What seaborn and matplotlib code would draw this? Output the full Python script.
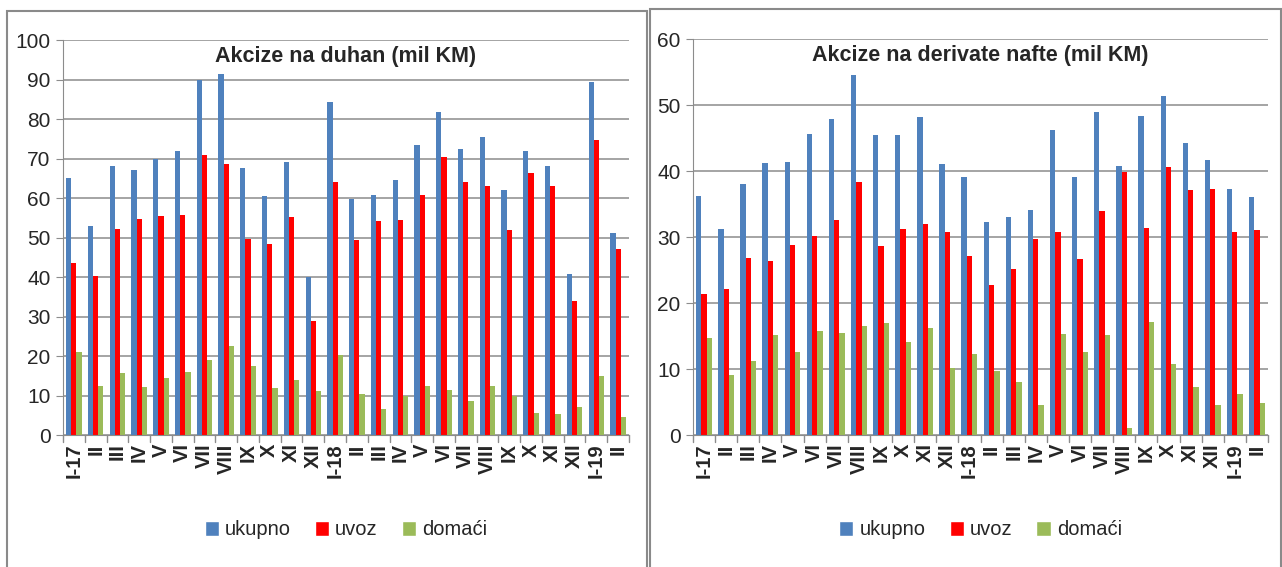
import matplotlib
matplotlib.use("Agg")
import matplotlib.pyplot as plt
from matplotlib.patches import Rectangle, Patch
import pandas as pd
import seaborn as sns

months = ["I-17", "II", "III", "IV", "V", "VI", "VII", "VIII", "IX", "X", "XI", "XII",
          "I-18", "II", "III", "IV", "V", "VI", "VII", "VIII", "IX", "X", "XI", "XII",
          "I-19", "II"]
series = ["ukupno", "uvoz", "domaći"]

duhan_ukupno = [65, 53, 68, 67, 70, 72, 90, 91.5, 67.5, 60.5, 69, 40,
                84.2, 59.8, 60.7, 64.5, 73.3, 81.8, 72.3, 75.5, 62, 72, 68.2, 40.7,
                89.5, 51.2]
duhan_uvoz = [43.5, 40.3, 52.2, 54.8, 55.5, 55.8, 71, 68.5, 49.5, 48.3, 55.2, 28.8,
              64, 49.3, 54.2, 54.5, 60.7, 70.5, 64, 63, 52, 66.3, 63, 34,
              74.6, 47]
duhan_domaci = [21, 12.5, 15.8, 12.2, 14.5, 16, 19, 22.5, 17.5, 12, 13.8, 11.2,
                20.2, 10.5, 6.5, 10, 12.3, 11.3, 8.5, 12.3, 10, 5.5, 5.2, 7,
                15, 4.5]

nafta_ukupno = [36.2, 31.2, 38, 41.2, 41.4, 45.6, 47.9, 54.6, 45.4, 45.4, 48.2, 41,
                39.1, 32.2, 33.1, 34.1, 46.2, 39.1, 49, 40.7, 48.4, 51.3, 44.3, 41.6,
                37.3, 36.1]
nafta_uvoz = [21.3, 22.1, 26.8, 26.4, 28.8, 30.1, 32.6, 38.3, 28.6, 31.2, 32, 30.8,
              27.1, 22.7, 25.2, 29.7, 30.8, 26.7, 33.9, 39.8, 31.4, 40.6, 37.1, 37.3,
              30.8, 31.1]
nafta_domaci = [14.7, 9.1, 11.2, 15.2, 12.6, 15.7, 15.5, 16.5, 16.9, 14.1, 16.2, 10.2,
                12.2, 9.7, 8, 4.5, 15.3, 12.6, 15.1, 1.0, 17.1, 10.8, 7.3, 4.5,
                6.2, 4.8]

colors = ["#4F81BD", "#FF0000", "#9BBB59"]


def make_frame(uk, uv, do):
    rows = []
    for i, m in enumerate(months):
        for s, v in zip(series, (uk, uv, do)):
            rows.append({"pos": i, "mjesec": m, "serija": s, "vrijednost": v[i]})
    return pd.DataFrame(rows)


sns.set_style("white")
plt.rcParams["font.family"] = ["Liberation Sans", "DejaVu Sans"]

fig = plt.figure(figsize=(12.82, 5.67), dpi=100)

# okviri panela
fig.patches.append(Rectangle((7 / 1282, -0.1), 640 / 1282, 1.08, transform=fig.transFigure,
                             fill=False, edgecolor="#8a8a8a", linewidth=1.5))
fig.patches.append(Rectangle((650 / 1282, -0.1), 631 / 1282, 1.085, transform=fig.transFigure,
                             fill=False, edgecolor="#8a8a8a", linewidth=1.5))

panels = [
    ([63 / 1282, 0.2328, 566 / 1282, 0.6966], duhan_ukupno, duhan_uvoz, duhan_domaci,
     "Akcize na duhan (mil KM)", 100, 10),
    ([693 / 1282, 0.2328, 575 / 1282, 0.6984], nafta_ukupno, nafta_uvoz, nafta_domaci,
     "Akcize na derivate nafte (mil KM)", 60, 10),
]

for rect, uk, uv, do, title, ymax, step in panels:
    ax = fig.add_axes(rect)
    df = make_frame(uk, uv, do)
    sns.barplot(data=df, x="pos", y="vrijednost", hue="serija", hue_order=series,
                palette=colors, width=0.72, gap=0.0, saturation=1, linewidth=0,
                ax=ax, legend=False)
    ax.set_ylim(0, ymax)
    ax.set_xlim(-0.5, len(months) - 0.5)
    ax.set_yticks(range(0, ymax + 1, step))
    ax.yaxis.grid(True, color="#8c8c8c", linewidth=1.1)
    ax.set_axisbelow(True)
    ax.set_xticks(range(len(months)))
    ax.set_xticklabels(months, rotation=90, fontsize=14.5, fontweight="bold")
    ax.tick_params(axis="x", length=0, pad=6)
    ax.tick_params(axis="y", labelsize=15, length=5, color="#8c8c8c", pad=4, left=True)
    # crtice izmedju kategorija
    for b in range(len(months) + 1):
        ax.plot([b - 0.5, b - 0.5], [0, -0.018 * ymax], color="#8c8c8c", linewidth=1,
                clip_on=False)
    for side in ["top", "right"]:
        ax.spines[side].set_visible(False)
    ax.spines["left"].set_color("#8c8c8c")
    ax.spines["bottom"].set_color("#8c8c8c")
    ax.set_xlabel("")
    ax.set_ylabel("")
    ax.text(0.5, 0.985, title, transform=ax.transAxes, ha="center", va="top",
            fontsize=15.5, fontweight="bold")
    handles = [Patch(facecolor=c, label=s) for c, s in zip(colors, series)]
    ax.legend(handles=handles, loc="upper center", bbox_to_anchor=(0.5, -0.17), ncol=3,
              frameon=False, fontsize=14.5, handlelength=0.7, handleheight=0.8,
              handletextpad=0.3, columnspacing=1.2)

fig.savefig("out.png", dpi=100)
